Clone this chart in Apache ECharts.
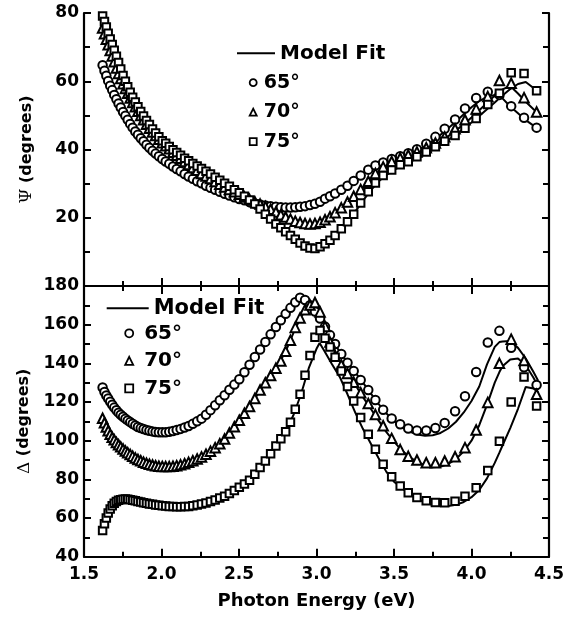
<!DOCTYPE html>
<html>
<head>
<meta charset="utf-8">
<script src="https://cdn.jsdelivr.net/npm/echarts@6/dist/echarts.min.js"></script>
<style>
  html, body { margin: 0; padding: 0; background: #fff; }
  #chart { width: 572px; height: 619px; }
</style>
</head>
<body>
<div id="chart"></div>
<script>
// measured photon energies (eV)
const energy = [1.62, 1.632, 1.644, 1.656, 1.669, 1.682, 1.695, 1.709, 1.723, 1.737,
  1.752, 1.767, 1.782, 1.798, 1.814, 1.831, 1.848, 1.866, 1.884, 1.903,
  1.922, 1.942, 1.962, 1.983, 2.005, 2.027, 2.05, 2.074, 2.098, 2.123,
  2.149, 2.175, 2.202, 2.23, 2.258, 2.287, 2.316, 2.346, 2.376, 2.407,
  2.438, 2.47, 2.502, 2.535, 2.568, 2.602, 2.636, 2.67, 2.704, 2.738,
  2.77, 2.801, 2.832, 2.863, 2.894, 2.926, 2.958, 2.99, 3.023, 3.055,
  3.087, 3.12, 3.16, 3.2, 3.24, 3.285, 3.334, 3.38, 3.43, 3.485,
  3.54, 3.592, 3.648, 3.708, 3.767, 3.827, 3.894, 3.958, 4.03, 4.105,
  4.18, 4.256, 4.339, 4.42]

// Psi, measured
const psi65 = [64.7, 63.1, 61.6, 60.1, 58.7, 57.4, 56.0, 54.7, 53.5, 52.3,
  51.0, 49.9, 48.7, 47.5, 46.4, 45.3, 44.3, 43.3, 42.4, 41.4,
  40.5, 39.6, 38.8, 38.0, 37.2, 36.5, 35.8, 35.0, 34.3, 33.6,
  32.8, 32.1, 31.4, 30.7, 30.1, 29.4, 28.8, 28.2, 27.6, 27.0,
  26.5, 26.0, 25.5, 25.1, 24.6, 24.2, 23.9, 23.6, 23.4, 23.2,
  23.1, 23.0, 23.0, 23.1, 23.2, 23.4, 23.7, 24.1, 24.7, 25.6,
  26.3, 27.1, 28.2, 29.4, 30.8, 32.4, 34.1, 35.3, 36.2, 37.2,
  38.0, 38.9, 40.1, 41.7, 43.7, 46.1, 48.8, 52.0, 55.1, 56.9,
  56.0, 52.7, 49.3, 46.4]
const psi70 = [75.6, 73.9, 72.3, 70.7, 69.0, 67.4, 65.7, 63.9, 62.3, 60.8,
  59.3, 57.9, 56.5, 55.1, 53.8, 52.5, 51.2, 50.0, 48.7, 47.4,
  46.2, 45.1, 44.1, 43.0, 42.0, 41.1, 40.2, 39.2, 38.3, 37.4,
  36.5, 35.6, 34.7, 33.9, 33.0, 32.2, 31.5, 30.6, 29.8, 29.0,
  28.3, 27.6, 26.9, 26.1, 25.4, 24.7, 24.0, 23.3, 22.5, 21.7,
  20.9, 20.2, 19.6, 19.0, 18.6, 18.3, 18.2, 18.3, 18.7, 19.4,
  20.3, 21.5, 22.9, 24.6, 26.3, 28.3, 30.7, 33.0, 34.9, 36.5,
  37.5, 38.4, 39.3, 40.5, 41.9, 43.7, 46.1, 48.7, 51.9, 55.5,
  60.2, 59.4, 55.2, 51.0]
const psi75 = [79.1, 77.5, 75.9, 74.1, 72.4, 70.8, 69.1, 67.3, 65.5, 63.6,
  61.7, 60.0, 58.4, 56.8, 55.3, 53.9, 52.5, 51.1, 49.8, 48.5,
  47.3, 46.0, 44.8, 43.7, 42.6, 41.8, 40.9, 39.9, 39.1, 38.3,
  37.4, 36.7, 35.9, 35.2, 34.4, 33.6, 32.8, 31.9, 31.0, 30.1,
  29.2, 28.2, 27.3, 26.3, 25.2, 24.0, 22.6, 21.0, 19.6, 18.2,
  17.1, 15.9, 14.8, 13.7, 12.6, 11.7, 11.1, 11.0, 11.5, 12.4,
  13.4, 14.8, 16.8, 18.8, 21.0, 24.3, 27.6, 30.2, 32.4, 34.0,
  35.5, 36.4, 37.9, 39.3, 40.8, 42.4, 44.1, 46.2, 49.1, 53.2,
  56.5, 62.5, 62.3, 57.2]

// Delta, measured
const delta65 = [127.5, 125.2, 123.4, 121.8, 120.1, 118.6, 117.1, 115.7, 114.5, 113.4,
  112.4, 111.4, 110.5, 109.6, 108.8, 107.9, 107.1, 106.5, 106.0, 105.5,
  105.1, 104.8, 104.5, 104.4, 104.3, 104.4, 104.6, 105.0, 105.5, 106.1,
  106.8, 107.6, 108.7, 110.0, 111.4, 113.4, 115.8, 118.3, 120.9, 123.5,
  126.3, 129.0, 131.8, 135.4, 139.3, 143.3, 147.2, 151.1, 155.0, 158.8,
  162.3, 165.6, 168.7, 171.6, 173.9, 172.8, 170.0, 166.8, 163.2, 159.0,
  154.6, 150.0, 144.8, 140.3, 136.1, 131.4, 126.2, 121.0, 116.0, 111.5,
  108.5, 106.3, 105.3, 105.3, 106.6, 109.2, 115.2, 123.0, 135.5, 150.8,
  156.8, 148.1, 138.0, 128.8]
const delta70 = [111.6, 109.3, 107.1, 105.1, 103.3, 101.8, 100.5, 99.1, 97.9, 96.8,
  95.7, 94.7, 93.8, 92.9, 92.0, 91.1, 90.3, 89.6, 88.9, 88.3,
  87.8, 87.4, 87.0, 86.8, 86.7, 86.6, 86.6, 86.8, 87.1, 87.5,
  88.1, 88.8, 89.6, 90.5, 91.6, 93.0, 94.6, 96.4, 98.4, 100.9,
  104.0, 107.2, 110.6, 114.2, 117.7, 121.8, 126.2, 130.0, 133.7, 137.5,
  141.2, 146.2, 151.9, 158.6, 163.5, 167.7, 170.2, 171.5, 166.6, 159.1,
  151.0, 143.8, 139.2, 134.8, 130.2, 124.8, 119.2, 113.5, 107.7, 101.2,
  95.4, 91.9, 90.0, 88.6, 88.6, 89.5, 91.7, 96.4, 105.5, 119.8,
  140.0, 152.5, 141.5, 124.0]
const delta75 = [53.5, 57.0, 60.0, 62.6, 64.7, 66.4, 67.7, 68.6, 69.2, 69.5,
  69.7, 69.8, 69.7, 69.5, 69.2, 68.9, 68.6, 68.3, 67.9, 67.6,
  67.3, 67.1, 66.8, 66.6, 66.4, 66.2, 66.0, 65.9, 65.8, 65.8,
  65.9, 66.0, 66.3, 66.7, 67.2, 67.8, 68.5, 69.3, 70.3, 71.3,
  72.7, 74.3, 75.9, 77.6, 79.6, 82.7, 86.1, 89.5, 93.2, 97.2,
  101.0, 104.6, 109.5, 116.2, 124.0, 133.8, 144.0, 153.5, 157.0, 153.0,
  148.5, 143.2, 136.0, 128.0, 120.5, 112.0, 103.3, 95.6, 87.8, 81.3,
  76.5, 73.1, 70.6, 68.9, 68.0, 67.9, 68.7, 71.3, 75.7, 84.6,
  99.7, 120.0, 133.0, 118.0]

// model fit curves
const fitEnergy = [1.62, 1.65, 1.70, 1.75, 1.80, 1.85, 1.90, 2.00, 2.10, 2.20,
  2.30, 2.40, 2.50, 2.60, 2.70, 2.75, 2.80, 2.85, 2.90, 2.95,
  3.00, 3.02, 3.05, 3.10, 3.15, 3.20, 3.25, 3.30, 3.35, 3.40,
  3.45, 3.50, 3.55, 3.60, 3.65, 3.70, 3.75, 3.80, 3.85, 3.90,
  3.95, 4.00, 4.05, 4.10, 4.15, 4.18, 4.20, 4.25, 4.30, 4.35,
  4.40, 4.43]
const psiFit65 = [64.7, 60.8, 55.5, 51.2, 47.4, 44.2, 41.5, 37.2, 34.2, 31.5,
  29.1, 27.1, 25.5, 24.2, 23.4, 23.2, 23.0, 23.0, 23.2, 23.6,
  24.2, 24.6, 25.4, 26.6, 28.0, 29.5, 31.2, 32.8, 34.2, 35.3,
  36.2, 37.0, 37.8, 38.7, 39.7, 41.0, 42.6, 44.3, 46.2, 48.2,
  50.3, 52.4, 54.2, 55.4, 56.0, 55.7, 55.0, 52.6, 50.6, 48.6,
  47.0, 46.2]
const psiFit70 = [75.6, 71.5, 65.0, 59.5, 54.9, 51.0, 47.6, 42.1, 38.2, 34.8,
  31.8, 29.2, 26.9, 24.8, 22.4, 21.4, 20.2, 19.2, 18.5, 18.2,
  18.4, 18.7, 19.3, 20.7, 22.3, 24.2, 26.4, 28.8, 31.2, 33.3,
  34.9, 36.1, 37.0, 37.8, 38.7, 39.7, 40.9, 42.3, 43.9, 45.6,
  47.4, 49.4, 51.5, 53.6, 55.8, 56.9, 57.6, 58.6, 56.4, 54.0,
  51.8, 50.6]
const psiFit75 = [79.1, 74.6, 68.5, 61.8, 56.6, 52.2, 48.6, 42.6, 39.1, 35.9,
  33.1, 30.2, 27.3, 24.1, 19.8, 17.7, 16.0, 14.1, 12.4, 11.3,
  11.1, 11.4, 12.2, 14.0, 16.3, 18.8, 21.8, 25.0, 28.0, 30.6,
  32.5, 34.0, 35.2, 36.3, 37.4, 38.6, 39.9, 41.3, 42.8, 44.4,
  46.1, 47.9, 49.8, 51.8, 53.8, 55.0, 55.8, 57.7, 59.2, 59.8,
  58.0, 56.8]
const deltaFit65 = [127.5, 122.5, 116.6, 112.5, 109.5, 107.1, 105.6, 104.3, 105.5, 108.6,
  114.3, 123.0, 131.6, 143.0, 154.6, 160.0, 165.5, 170.5, 173.8, 170.8,
  166.0, 163.8, 159.6, 152.2, 146.0, 140.5, 135.3, 130.0, 124.5, 119.0,
  114.2, 110.2, 107.0, 104.7, 103.2, 102.6, 102.8, 104.0, 106.3, 109.8,
  114.6, 120.5, 128.0, 139.5, 148.5, 151.0, 151.3, 151.5, 148.0, 142.5,
  135.5, 131.0]
const deltaFit70 = [111.6, 106.0, 100.0, 95.8, 92.7, 90.2, 88.4, 86.7, 87.1, 89.5,
  93.7, 100.3, 110.4, 121.6, 133.3, 139.0, 146.0, 155.5, 164.0, 169.5,
  170.8, 168.5, 162.0, 150.0, 141.0, 135.0, 129.0, 122.5, 116.5, 110.5,
  104.5, 99.5, 95.0, 91.5, 89.0, 87.2, 86.2, 86.5, 88.0, 90.5,
  94.5, 100.0, 108.0, 118.5, 130.0, 135.5, 138.5, 142.0, 142.5, 139.0,
  132.5, 128.0]
const deltaFit75 = [53.5, 61.2, 67.8, 69.7, 69.5, 68.6, 67.6, 66.4, 65.8, 66.3,
  68.0, 71.0, 75.8, 82.5, 92.8, 98.5, 104.5, 113.0, 124.0, 137.5,
  147.5, 150.5, 146.5, 139.5, 133.0, 124.0, 114.5, 106.0, 98.5, 91.0,
  84.0, 78.8, 75.5, 72.5, 70.0, 68.0, 66.8, 66.3, 66.2, 66.8,
  68.3, 70.8, 74.5, 80.5, 88.5, 93.8, 97.5, 106.5, 116.5, 127.8,
  127.0, 125.0]

const angleNames = ['65°', '70°', '75°']
const markerShapes = ['circle', 'triangle', 'rect']
const markerSizes = [8.5, 9.5, 7.5]

const FONT = 'DejaVu Sans'
const pair = (xs, ys) => xs.map((x, i) => [x, ys[i]])

function xAxisCfg(gridIndex, position, showLabel) {
  return {
    type: 'value', gridIndex, position, min: 1.5, max: 4.5, interval: 0.5,
    axisLine: { lineStyle: { color: '#000', width: 2.2 } },
    axisTick: { inside: true, length: 8, lineStyle: { color: '#000', width: 2 } },
    minorTick: { show: true, splitNumber: 2, length: 5, lineStyle: { color: '#000', width: 2 } },
    splitLine: { show: false },
    axisLabel: {
      show: showLabel, margin: 9, color: '#000', fontFamily: FONT, fontWeight: 'bold', fontSize: 17,
      formatter: v => v.toFixed(1)
    }
  }
}

function yAxisCfg(gridIndex, position, min, max, showLabel) {
  return {
    type: 'value', gridIndex, position, min, max, interval: 20,
    axisLine: { show: true, lineStyle: { color: '#000', width: 2.2 } },
    axisTick: { inside: true, length: 7, lineStyle: { color: '#000', width: 2 } },
    minorTick: { show: true, splitNumber: 2, length: 6, lineStyle: { color: '#000', width: 2 } },
    splitLine: { show: false },
    axisLabel: {
      show: showLabel, margin: 5, color: '#000', fontFamily: FONT, fontWeight: 'bold', fontSize: 17,
      formatter: v => (v === 0 ? '' : String(v))
    }
  }
}

const nameStyle = {
  color: '#000', fontFamily: FONT, fontWeight: 'bold', fontSize: 16,
  rich: { g: { fontFamily: 'DejaVu Serif', fontWeight: 'normal', fontSize: 17, color: '#000' } }
}

const yTopLeft = yAxisCfg(0, 'left', 0, 80, true)
yTopLeft.name = '{g|Ψ} (degrees)'
yTopLeft.nameLocation = 'middle'
yTopLeft.nameGap = 49
yTopLeft.nameTextStyle = nameStyle

const yBotLeft = yAxisCfg(1, 'left', 40, 180, true)
yBotLeft.name = '{g|Δ} (degrees)'
yBotLeft.nameLocation = 'middle'
yBotLeft.nameGap = 49
yBotLeft.nameTextStyle = nameStyle

const xBottom = xAxisCfg(1, 'bottom', true)
xBottom.name = 'Photon Energy (eV)'
xBottom.nameLocation = 'middle'
xBottom.nameGap = 36
xBottom.nameTextStyle = { color: '#000', fontFamily: FONT, fontWeight: 'bold', fontSize: 18 }

const series = []
const measured = [[psi65, psi70, psi75], [delta65, delta70, delta75]]
const fits = [[psiFit65, psiFit70, psiFit75], [deltaFit65, deltaFit70, deltaFit75]]
;[0, 1].forEach(g => {
  const xi = g === 0 ? 0 : 2
  const yi = g === 0 ? 0 : 2
  fits[g].forEach(arr => {
    series.push({
      name: 'Model Fit', type: 'line', xAxisIndex: xi, yAxisIndex: yi,
      data: pair(fitEnergy, arr), symbol: 'none', showSymbol: false, z: 2,
      lineStyle: { color: '#000', width: 2 }, itemStyle: { color: '#000' }
    })
  })
  measured[g].forEach((arr, k) => {
    series.push({
      name: angleNames[k], type: 'scatter', xAxisIndex: xi, yAxisIndex: yi,
      data: pair(energy, arr), symbol: markerShapes[k], symbolSize: markerSizes[k], z: 3,
      itemStyle: { color: '#fff', borderColor: '#000', borderWidth: 2, opacity: 1 }
    })
  })
})

const fitLegendData = [{ name: 'Model Fit', icon: 'rect', itemStyle: { color: '#000', borderWidth: 0 } }]
const markerLegendData = angleNames.map((n, k) => ({
  name: n, icon: markerShapes[k],
  itemStyle: { color: '#fff', borderColor: '#000', borderWidth: 1.8 }
}))

const chart = echarts.init(document.getElementById('chart'))
chart.setOption({
  animation: false,
  backgroundColor: '#fff',
  grid: [
    { left: 84, right: 23, top: 13, height: 273 },
    { left: 84, right: 23, top: 286, bottom: 62.3 }
  ],
  xAxis: [
    xAxisCfg(0, 'bottom', false),
    xAxisCfg(0, 'top', false),
    xBottom,
    xAxisCfg(1, 'top', false)
  ],
  yAxis: [
    yTopLeft,
    yAxisCfg(0, 'right', 0, 80, false),
    yBotLeft,
    yAxisCfg(1, 'right', 40, 180, false)
  ],
  legend: [
    {
      data: fitLegendData, left: 237, top: 43.3, padding: 0, selectedMode: false,
      itemWidth: 38, itemHeight: 2,
      textStyle: { color: '#000', fontFamily: FONT, fontWeight: 'bold', fontSize: 20, lineHeight: 20 }
    },
    {
      data: markerLegendData, orient: 'vertical', left: 248.8, top: 72.7, padding: 0,
      selectedMode: false, itemWidth: 7, itemHeight: 7, itemGap: 9.5,
      textStyle: { color: '#000', fontFamily: FONT, fontWeight: 'bold', fontSize: 19, lineHeight: 20, padding: [0, 0, 0, 2] }
    },
    {
      data: fitLegendData, left: 106.7, top: 297.8, padding: 0, selectedMode: false,
      itemWidth: 42, itemHeight: 2,
      textStyle: { color: '#000', fontFamily: FONT, fontWeight: 'bold', fontSize: 21, lineHeight: 21 }
    },
    {
      data: markerLegendData, orient: 'vertical', left: 124.3, top: 323.3, padding: 0,
      selectedMode: false, itemWidth: 8, itemHeight: 8, itemGap: 7.5,
      textStyle: { color: '#000', fontFamily: FONT, fontWeight: 'bold', fontSize: 20, lineHeight: 20, padding: [0, 0, 0, 6] }
    }
  ],
  series
})
</script>
</body>
</html>
